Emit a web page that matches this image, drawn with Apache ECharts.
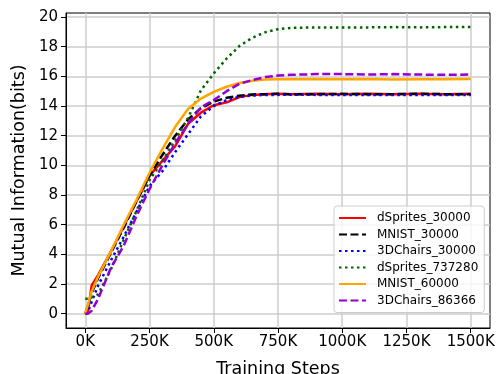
<!DOCTYPE html>
<html>
<head>
<meta charset="utf-8">
<script src="https://cdn.jsdelivr.net/npm/echarts@6/dist/echarts.min.js"></script>
<style>
  html, body { margin: 0; padding: 0; background: #fff; }
  #chart { width: 501px; height: 374px; }
</style>
</head>
<body>
<div id="chart"></div>
<script>
// training steps, in thousands
var steps = [0, 10, 25, 50, 100, 150, 200, 250, 300, 350, 400, 450, 500, 550, 600, 650, 700, 750, 800, 900, 1000, 1100, 1200, 1300, 1400, 1500];

var dSprites30000  = [0, 0.1, 1.9, 2.6, 4.2, 5.9, 7.6, 9.3, 10.3, 11.3, 12.8, 13.55, 14.05, 14.25, 14.6, 14.75, 14.8, 14.82, 14.8, 14.82, 14.8, 14.82, 14.8, 14.82, 14.8, 14.82];
var mnist30000     = [0, 0.5, 1.4, 2.4, 4.1, 5.8, 7.6, 9.3, 10.7, 12.0, 13.1, 13.85, 14.3, 14.55, 14.7, 14.78, 14.8, 14.82, 14.8, 14.8, 14.82, 14.8, 14.8, 14.82, 14.8, 14.8];
var chairs30000    = [0, 0.1, 0.8, 1.9, 3.6, 5.2, 6.9, 8.6, 9.6, 10.9, 12.1, 13.3, 14.0, 14.4, 14.62, 14.7, 14.75, 14.75, 14.76, 14.75, 14.75, 14.74, 14.75, 14.75, 14.74, 14.75];
var dSprites737280 = [1.0, 1.0, 1.1, 1.3, 3.0, 5.0, 6.95, 9.0, 10.3, 11.7, 13.2, 15.05, 16.2, 17.2, 18.05, 18.6, 18.97, 19.18, 19.27, 19.3, 19.3, 19.3, 19.32, 19.3, 19.32, 19.33];
var mnist60000     = [0, 0.6, 1.5, 2.5, 4.2, 6.0, 7.7, 9.5, 11.1, 12.6, 13.8, 14.5, 14.95, 15.3, 15.55, 15.7, 15.78, 15.8, 15.8, 15.82, 15.8, 15.82, 15.78, 15.8, 15.8, 15.82];
var chairs86366    = [0, 0, 0.2, 1.0, 3.1, 4.6, 6.6, 8.4, 10.0, 11.5, 12.8, 13.9, 14.4, 15.0, 15.5, 15.75, 15.95, 16.05, 16.1, 16.15, 16.15, 16.12, 16.15, 16.12, 16.1, 16.12];

var xTicks = [0, 250, 500, 750, 1000, 1250, 1500];
var yTicks = [0, 2, 4, 6, 8, 10, 12, 14, 16, 18, 20];

function pairs(vals) {
    return steps.map(function (s, i) { return [s, vals[i]]; });
}

function line(name, vals, color, type) {
    return {
        name: name,
        type: 'line',
        data: pairs(vals),
        symbol: 'none',
        animation: false,
        lineStyle: { color: color, width: 2.5, type: type },
        itemStyle: { color: color }
    };
}

var myChart = echarts.init(document.getElementById('chart'));
var font = 'DejaVu Sans';

myChart.setOption({
    animation: false,
    grid: {
        left: 66, right: 11, top: 13, bottom: 46,
        outerBoundsMode: 'none', containLabel: false,
        show: true, borderColor: '#000', borderWidth: 1, backgroundColor: 'transparent'
    },
    xAxis: {
        type: 'value',
        min: -75, max: 1575,
        name: 'Training Steps',
        nameLocation: 'middle',
        nameGap: 32,
        nameTextStyle: { fontFamily: font, fontSize: 17.5, color: '#000', verticalAlign: 'top' },
        axisLine: { show: true, onZero: false, lineStyle: { color: '#000' } },
        axisTick: { show: true, length: 5, customValues: xTicks, lineStyle: { color: '#000' } },
        axisLabel: {
            customValues: xTicks, margin: 7,
            fontFamily: font, fontSize: 15, color: '#000',
            formatter: function (v) { return v + 'K'; }
        },
        splitLine: { show: true, lineStyle: { color: '#cccccc', width: 1.5 } }
    },
    yAxis: {
        type: 'value',
        min: -0.965, max: 20.27,
        name: 'Mutual Information(bits)',
        nameLocation: 'middle',
        nameGap: 34,
        nameTextStyle: { fontFamily: font, fontSize: 17.5, color: '#000' },
        axisLine: { show: true, onZero: false, lineStyle: { color: '#000' } },
        axisTick: { show: true, length: 5, customValues: yTicks, lineStyle: { color: '#000' } },
        axisLabel: { customValues: yTicks, margin: 8, fontFamily: font, fontSize: 15, color: '#000' },
        splitLine: { show: true, lineStyle: { color: '#cccccc', width: 1.5 } }
    },
    legend: {
        orient: 'vertical',
        left: 334, top: 206,
        padding: [6, 6, 6, 4],
        itemWidth: 27, itemHeight: 14, itemGap: 4.5,
        itemStyle: { opacity: 0 },
        backgroundColor: 'rgba(255,255,255,0.8)',
        borderColor: '#cccccc', borderWidth: 1, borderRadius: 3,
        textStyle: { fontFamily: font, fontSize: 12, color: '#000', padding: [0, 0, 0, 6] },
        data: ['dSprites_30000', 'MNIST_30000', '3DChairs_30000', 'dSprites_737280', 'MNIST_60000', '3DChairs_86366']
    },
    series: [
        line('dSprites_30000', dSprites30000, '#ff0000', 'solid'),
        line('MNIST_30000', mnist30000, '#000000', [8, 3.5]),
        line('3DChairs_30000', chairs30000, '#0000ff', [2.5, 3.5]),
        line('dSprites_737280', dSprites737280, '#006400', [2.5, 3.5]),
        line('MNIST_60000', mnist60000, '#ffa500', 'solid'),
        line('3DChairs_86366', chairs86366, '#9400d3', [8, 3.5])
    ]
});
</script>
</body>
</html>
